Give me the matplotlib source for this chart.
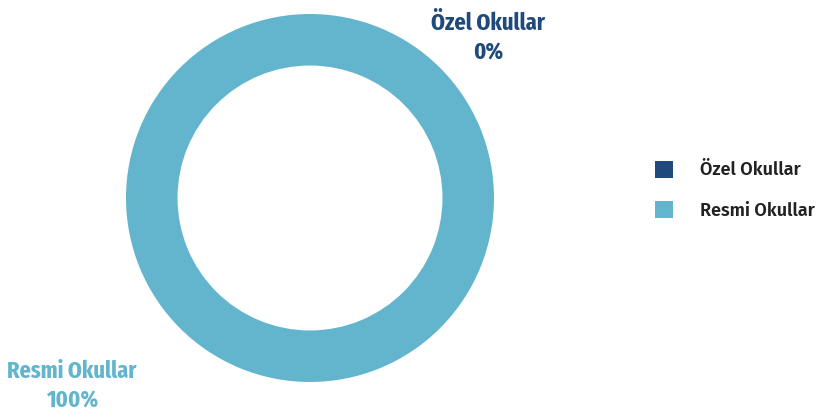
import matplotlib.pyplot as plt
from matplotlib.patches import Patch

# data
categories = ['Özel Okullar', 'Resmi Okullar']
shares = [0, 100]
colors = ['#1f4a7a', '#62b5cc']

fig = plt.figure(figsize=(8.38, 4.17), dpi=100)

# donut axes placed in pixels: centre (310, 219 from bottom), radius 184
W, H = 838, 417
ax = fig.add_axes([126 / W, 35 / H, 368 / W, 368 / H])
wedges, _ = ax.pie(shares, colors=colors, startangle=90, counterclock=False,
                   radius=1, wedgeprops=dict(width=0.28, linewidth=0))
ax.set_xlim(-1, 1)
ax.set_ylim(-1, 1)
ax.set_aspect('equal')
ax.axis('off')

label_font = ['Fira Sans Extra Condensed', 'DejaVu Sans']

# outside labels
fig.text(488 / W, 1 - 38 / H, f'{categories[0]}\n{shares[0]}%', ha='center', va='center',
         fontsize=17.5, fontweight='bold', color=colors[0], family=label_font,
         linespacing=1.35)
fig.text(72 / W, 1 - 386 / H, f'{categories[1]}\n{shares[1]}%', ha='center', va='center',
         fontsize=17.5, fontweight='bold', color=colors[1], family=label_font,
         linespacing=1.35)

# legend
handles = [Patch(facecolor=c, edgecolor='none') for c in colors]
leg = fig.legend(handles, categories, loc='center left', bbox_to_anchor=(655 / W, 1 - 190 / H),
                 frameon=False, handlelength=1.0, handleheight=1.1, handletextpad=1.5,
                 labelspacing=1.2, borderpad=0, borderaxespad=0,
                 prop=dict(family=['Fira Sans', 'DejaVu Sans'], weight='semibold', size=13))
for t in leg.get_texts():
    t.set_color('#222222')

fig.savefig('out.png', dpi=100)
